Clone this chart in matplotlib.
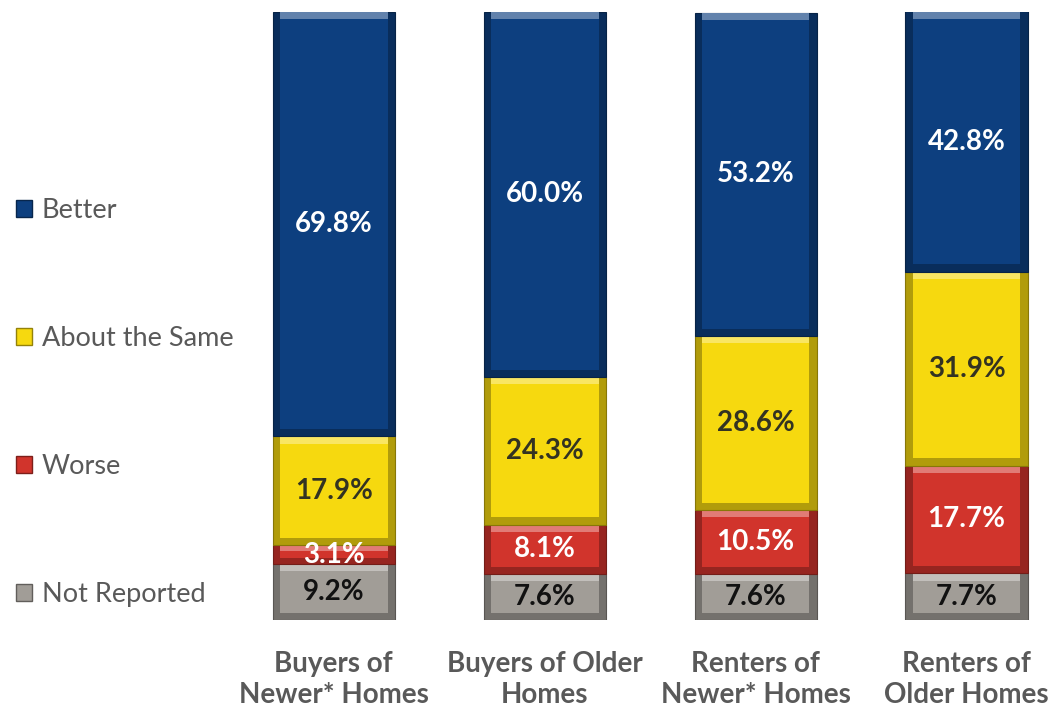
import matplotlib.pyplot as plt
import numpy as np
from matplotlib.patches import Patch
from matplotlib.colors import to_rgb

plt.rcParams["font.family"] = ["Lato", "DejaVu Sans"]

# Survey shares (%) per group, stacked bottom to top
groups = ["Buyers of\nNewer* Homes", "Buyers of Older\nHomes",
          "Renters of\nNewer* Homes", "Renters of\nOlder Homes"]
not_reported = [9.2, 7.6, 7.6, 7.7]
worse = [3.1, 8.1, 10.5, 17.7]
about_same = [17.9, 24.3, 28.6, 31.9]
better = [69.8, 60.0, 53.2, 42.8]

series = [
    ("Not Reported", not_reported, "#a19d97", "#111111"),
    ("Worse", worse, "#d1342c", "white"),
    ("About the Same", about_same, "#f6d90f", "#333322"),
    ("Better", better, "#0d3f7f", "white"),
]


def shade(color, f):
    r, g, b = to_rgb(color)
    if f < 1:
        return (r * f, g * f, b * f)
    return tuple(c + (1 - c) * (f - 1) for c in (r, g, b))


fig = plt.figure(figsize=(10.53, 7.09), dpi=100)
ax = fig.add_axes([0.1928, 0.1255, 0.8053, 0.8575])

x = np.arange(len(groups))
width = 0.58
bev_x = 0.035   # bevel thickness in x data units
bev_y = 1.2     # bevel thickness in y data units

bottom = np.zeros(len(groups))
for name, vals, color, tcolor in series:
    vals = np.array(vals)
    # dark frame of each segment
    ax.bar(x, vals, width, bottom=bottom, color=shade(color, 0.72),
           edgecolor=shade(color, 0.55), linewidth=0.8)
    # light top bevel
    ax.bar(x, np.minimum(bev_y, vals / 3), width - 2 * bev_x,
           bottom=bottom + vals - np.minimum(bev_y, vals / 3),
           color=shade(color, 1.35), linewidth=0)
    # inner face
    inner_h = np.maximum(vals - 2 * bev_y, vals * 0.4)
    ax.bar(x, inner_h, width - 2 * bev_x, bottom=bottom + (vals - inner_h) / 2,
           color=color, linewidth=0)
    for xi, b, v in zip(x, bottom, vals):
        ax.text(xi, b + v / 2, f"{v:.1f}%", ha="center", va="center",
                fontsize=20, fontweight="bold", color=tcolor)
    bottom = bottom + vals

ax.set_xlim(-0.62, 3.4)
ax.set_ylim(0, 100)
ax.set_xticks(x)
ax.set_xticklabels(groups, fontsize=20, fontweight="bold", color="#595959",
                   linespacing=1.25)
ax.tick_params(axis="x", length=0, pad=22)
ax.set_yticks([])
for s in ax.spines.values():
    s.set_visible(False)

handles = [Patch(facecolor=c, edgecolor=shade(c, 0.6), label=n)
           for n, _, c, _ in series[::-1]]
fig.legend(handles=handles, loc="upper left", bbox_to_anchor=(-0.008, 0.755),
           frameon=False, fontsize=19.5, labelcolor="#595959",
           handlelength=0.6, handleheight=0.6, handletextpad=0.35,
           labelspacing=3.8)

fig.savefig("out.png", dpi=100)
